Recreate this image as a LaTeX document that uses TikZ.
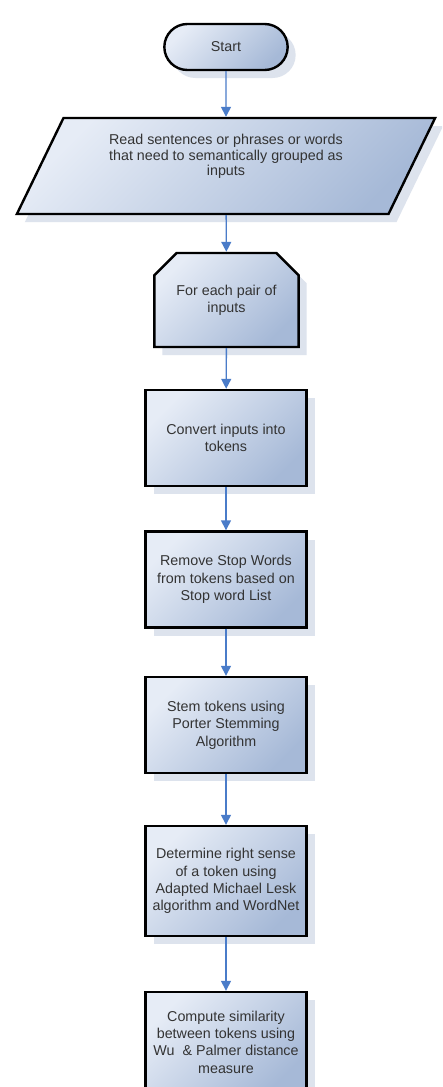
\documentclass[tikz,border=0pt]{standalone}
\usepackage{fontspec}
\setmainfont{Liberation Sans}
\usetikzlibrary{shapes.misc,shapes.geometric,shadows,arrows.meta}

\definecolor{boxlight}{HTML}{E6ECF6}
\definecolor{boxdark}{HTML}{A6B9D7}
\definecolor{shadowgrey}{HTML}{DDE3ED}
\definecolor{flowblue}{HTML}{4A7CC9}
\definecolor{textgrey}{HTML}{333333}

\begin{document}
\begin{tikzpicture}[x=1pt,y=-1pt,
    block/.style={draw=black, line width=2.4pt, top color=boxlight, bottom color=boxdark,
        shading angle=45, text=textgrey, align=center,
        font=\fontsize{14.3}{17.4}\selectfont,
        drop shadow={shadow xshift=8pt, shadow yshift=-8pt, fill=shadowgrey, opacity=1}},
    terminal/.style={block, rounded rectangle, minimum width=130pt, minimum height=46pt},
    iobox/.style={block, trapezium, trapezium left angle=64, trapezium right angle=116,
        trapezium stretches=true, minimum width=420pt, minimum height=96pt},
    limitbox/.style={block, chamfered rectangle, chamfered rectangle corners={north west,north east},
        chamfered rectangle xsep=22pt, minimum width=129pt, minimum height=94pt},
    procbox/.style={block, rectangle, minimum width=161pt, minimum height=96pt},
    flow/.style={draw=flowblue, line width=1.4pt, -{Triangle[length=10pt,width=10pt]}}]

    \clip (0,0) rectangle (442,1087);
    \fill[white] (0,0) rectangle (442,1087);

    \node[terminal] (start) at (226,47) {Start};
    \node[iobox, text depth=22pt, font=\fontsize{14.3}{15.8}\selectfont] (read) at (226,166)
        {Read sentences or phrases or words\\that need to semantically grouped as\\inputs};
    \node[limitbox] (pair) at (226.5,300) {For each pair of\\inputs};
    \node[procbox] (tokens) at (226,438) {Convert inputs into\\tokens};
    \node[procbox] (stopwords) at (226,579.5) {Remove Stop Words\\from tokens based on\\Stop word List};
    \node[procbox] (stem) at (226,725) {Stem tokens using\\Porter Stemming\\Algorithm};
    \node[procbox, minimum height=110pt] (sense) at (226,881)
        {Determine right sense\\of a token using\\Adapted Michael Lesk\\algorithm and WordNet};
    \node[procbox, minimum height=100pt] (similarity) at (226,1042)
        {Compute similarity\\between tokens using\\Wu\ \ \& Palmer distance\\measure};

    \draw[flow] (start) -- (read);
    \draw[flow] (read) -- (pair);
    \draw[flow] (pair) -- (tokens);
    \draw[flow] (tokens) -- (stopwords);
    \draw[flow] (stopwords) -- (stem);
    \draw[flow] (stem) -- (sense);
    \draw[flow] (sense) -- (similarity);
\end{tikzpicture}
\end{document}
